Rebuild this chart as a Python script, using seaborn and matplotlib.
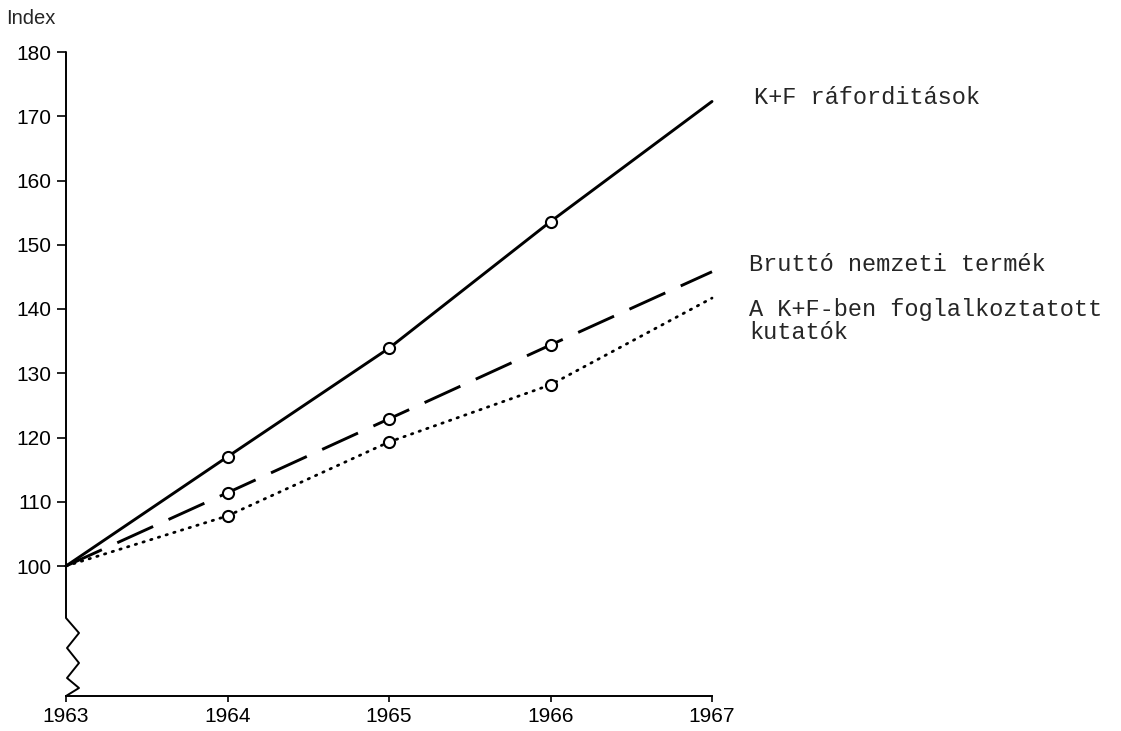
import matplotlib
matplotlib.use("Agg")
import matplotlib.pyplot as plt
import seaborn as sns
import pandas as pd

years = [1963, 1964, 1965, 1966, 1967]
kf_raforditasok = [100, 117.0, 133.9, 153.6, 172.3]
brutto_nemzeti = [100, 111.4, 122.9, 134.4, 145.8]
kutatok = [100, 107.8, 119.3, 128.2, 141.7]
series_labels = ["K+F ráforditások", "Bruttó nemzeti termék",
                 "A K+F-ben foglalkoztatott\nkutatók"]
y_ticks = [100, 110, 120, 130, 140, 150, 160, 170, 180]
y_title = "Index"

sns.set_style("white")
plt.rcParams['font.family'] = ['Liberation Sans', 'DejaVu Sans']

W, H = 1121, 731
fig = plt.figure(figsize=(W / 100, H / 100), dpi=100)
ax_l, ax_r, ax_b, ax_t = 66, 712, 696, 52
ax = fig.add_axes([ax_l / W, 1 - ax_b / H, (ax_r - ax_l) / W, (ax_b - ax_t) / H])

ymin = 100 - (ax_b - 566) / 6.425
ax.set_xlim(1963, 1967)
ax.set_ylim(ymin, 180)

df = pd.DataFrame({"year": years, "kf": kf_raforditasok,
                   "bnt": brutto_nemzeti, "kut": kutatok})

mk = dict(marker="o", markevery=[1, 2, 3], markersize=8,
          markerfacecolor="white", markeredgecolor="black", markeredgewidth=1.5)

sns.lineplot(data=df, x="year", y="kf", ax=ax, color="black", lw=2.1, **mk)
sns.lineplot(data=df, x="year", y="bnt", ax=ax, color="black", lw=2.1, **mk)
sns.lineplot(data=df, x="year", y="kut", ax=ax, color="black", lw=2.0, **mk)
lines = ax.get_lines()
lines[1].set_dashes((13.5, 5.8))
lines[2].set_dashes((0.5, 2.4))
lines[2].set_dash_capstyle("round")
for ln in lines:
    ln.set_clip_on(False)

# spines
for s in ["top", "right", "left"]:
    ax.spines[s].set_visible(False)
ax.spines["bottom"].set_linewidth(1.4)
ax.spines["bottom"].set_color("black")

# broken y axis with zigzag
px = 1.0 / 161.5  # one pixel in x data units
py = 1.0 / 6.425  # one pixel in y data units
def ypx(p):
    return 100 - (p - 566) * py
zx = [0, 0, 13, 1, 13, 1, 13, 0]
zy = [180, ypx(618), ypx(633), ypx(648), ypx(663), ypx(678), ypx(688), ymin]
ax.plot([1963 + v * px for v in zx], zy, color="black", lw=1.4, clip_on=False)

ax.set_yticks(y_ticks)
ax.set_yticklabels([str(v) for v in y_ticks])
ax.set_xticks(years)
ax.set_xticklabels([str(v) for v in years])
ax.tick_params(axis="y", direction="out", length=6.5, width=1.2, pad=4,
               labelsize=15, left=True, colors="black")
ax.tick_params(axis="x", direction="out", length=4, width=1.2, pad=4,
               labelsize=15, bottom=True, colors="black")
ax.set_xlabel("")
ax.set_ylabel("")

fig.text(6 / W, 1 - 18 / H, y_title, fontsize=14.5, ha="left", va="center")

mono = ["Liberation Mono", "DejaVu Sans Mono"]
fig.text(754 / W, 1 - 98 / H, series_labels[0], fontsize=17, family=mono,
         ha="left", va="center")
fig.text(749 / W, 1 - 265 / H, series_labels[1], fontsize=17, family=mono,
         ha="left", va="center")
fig.text(749 / W, 1 - 298 / H, series_labels[2], fontsize=17, family=mono,
         ha="left", va="top", linespacing=1.0)

fig.savefig("out.png", dpi=100, facecolor="white")
